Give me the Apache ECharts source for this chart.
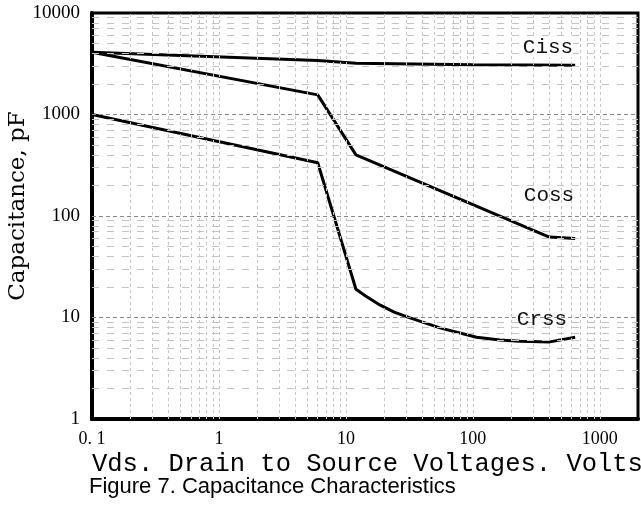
<!DOCTYPE html>
<html><head><meta charset="utf-8">
<script src="https://cdn.jsdelivr.net/npm/echarts@6/dist/echarts.min.js"></script>
<style>html,body{margin:0;padding:0;background:#fff}#c{width:641px;height:513px}</style>
</head><body><div id="c"></div>
<script>
// ---- data ----
const xTickValues = [0.1, 1, 10, 100, 1000];
const xTickLabels = ['0. 1', '1', '10', '100', '1000'];
const yTickValues = [1, 10, 100, 1000, 10000];
const yTickLabels = ['1', '10', '100', '1000', '10000'];

const cissV = [0.1, 6, 12, 100, 640];
const cissC = [4100, 3400, 3200, 3100, 3050];

const cossV = [0.1, 6, 12, 400, 640];
const cossC = [4100, 1560, 400, 62, 60];

const crssV = [0.1, 6, 12, 14.3, 18.5, 24, 32, 55, 107, 163, 234, 404, 640];
const crssC = [1000, 335, 19, 16.3, 13.3, 11.3, 9.9, 7.9, 6.4, 6.0, 5.85, 5.75, 6.4];

const seriesNames = ['Ciss', 'Coss', 'Crss'];
const xTitle = 'Vds. Drain to Source Voltages. Volts';
const yTitle = 'Capacitance, pF';
const caption = 'Figure 7. Capacitance Characteristics';

// grid line positions (log graph paper)
const minorMult = [2, 3, 4, 5, 6, 7, 8, 9];
const xDecades = [0.1, 1, 10, 100, 1000];
const yDecades = [1, 10, 100, 1000];
const xMajorGrid = [1, 10, 100, 1000];
const yMajorGrid = [10, 100, 1000];

const xMinorGrid = [];
xDecades.forEach(d => minorMult.forEach(m => { const v = +(d * m).toPrecision(3); if (v < 2000) xMinorGrid.push(v); }));
const yMinorGrid = [];
yDecades.forEach(d => minorMult.forEach(m => yMinorGrid.push(d * m)));

function zip(a, b) { return a.map((v, i) => [v, b[i]]); }
function fmt(values, labels) {
  return function (v) {
    for (let i = 0; i < values.length; i++) {
      if (Math.abs(Math.log10(v) - Math.log10(values[i])) < 1e-6) return labels[i];
    }
    return '';
  };
}

const vStyle = { color: '#c4c4c4', width: 1, type: [3, 3] };
const hMinorStyle = { color: '#c4c4c4', width: 1, type: [7, 8] };
const hMajorStyle = { color: '#8a8a8a', width: 1, type: [4, 3] };

const gridLines = []
  .concat(xMinorGrid.map(v => ({ xAxis: v, lineStyle: vStyle })))
  .concat(xMajorGrid.map(v => ({ xAxis: v, lineStyle: vStyle })))
  .concat(yMinorGrid.filter(v => yMajorGrid.indexOf(v) < 0).map(v => ({ yAxis: v, lineStyle: hMinorStyle })))
  .concat(yMajorGrid.map(v => ({ yAxis: v, lineStyle: hMajorStyle })));

const curveStyle = { color: '#000', width: 3 };
const labelFont = '21px "Liberation Mono"';

const chart = echarts.init(document.getElementById('c'), null, { renderer: 'canvas' });
chart.setOption({
  animation: false,
  backgroundColor: '#fff',
  grid: { left: 92, right: 3, top: 13, bottom: 94, show: true, borderColor: '#000', borderWidth: 3 },
  xAxis: {
    type: 'log', logBase: 10, min: 0.1, max: 2000,
    axisLine: { show: true, lineStyle: { color: '#000', width: 4 } },
    axisTick: { show: false },
    splitLine: { show: false },
    axisLabel: { show: false }
  },
  yAxis: {
    type: 'log', logBase: 10, min: 1, max: 10000,
    axisLine: { show: true, lineStyle: { color: '#000', width: 4 } },
    axisTick: { show: false },
    splitLine: { show: false },
    axisLabel: { margin: 12, fontFamily: 'Liberation Serif', fontSize: 19, color: '#000',
      formatter: fmt(yTickValues, yTickLabels) }
  },
  series: [
    { name: 'grid', type: 'line', data: [], z: 1, silent: true,
      markLine: { silent: true, symbol: 'none', animation: false, label: { show: false }, data: gridLines } },
    // x tick labels, positioned through the x scale at y = axis minimum
    { name: 'xticks', type: 'line', data: [], z: 2, silent: true,
      markPoint: { silent: true, animation: false, symbol: 'rect', symbolSize: 1,
        itemStyle: { color: 'rgba(0,0,0,0)' },
        label: { show: true, position: 'bottom', distance: 11, fontSize: 18, fontFamily: 'Liberation Serif', color: '#000',
          formatter: p => p.name },
        data: xTickValues.map((v, i) => ({ name: xTickLabels[i], coord: [v, yTickValues[0]] })) } },
    { name: seriesNames[0], type: 'line', data: zip(cissV, cissC), showSymbol: false, lineStyle: curveStyle, z: 3 },
    { name: seriesNames[1], type: 'line', data: zip(cossV, cossC), showSymbol: false, lineStyle: curveStyle, z: 3 },
    { name: seriesNames[2], type: 'line', data: zip(crssV, crssC), showSymbol: false, lineStyle: curveStyle, z: 3 }
  ],
  graphic: [
    { type: 'text', x: 548, y: 47, z: 10, style: { text: seriesNames[0], font: labelFont, fill: '#111', align: 'center', verticalAlign: 'middle', backgroundColor: '#fff' } },
    { type: 'text', x: 549, y: 195, z: 10, style: { text: seriesNames[1], font: labelFont, fill: '#111', align: 'center', verticalAlign: 'middle' } },
    { type: 'text', x: 542, y: 319, z: 10, style: { text: seriesNames[2], font: labelFont, fill: '#111', align: 'center', verticalAlign: 'middle' } },
    { type: 'text', x: 92, y: 464, style: { text: xTitle, font: '25.5px "Liberation Mono"', fill: '#000', align: 'left', verticalAlign: 'middle' } },
    { type: 'text', x: 18, y: 206, rotation: Math.PI / 2, style: { text: yTitle, font: '23px "DejaVu Serif"', fill: '#000', align: 'center', verticalAlign: 'middle' } },
    { type: 'text', x: 89, y: 487, style: { text: caption, font: '22px "Liberation Sans"', fill: '#000', align: 'left', verticalAlign: 'middle' } }
  ]
});
</script>
</body></html>
